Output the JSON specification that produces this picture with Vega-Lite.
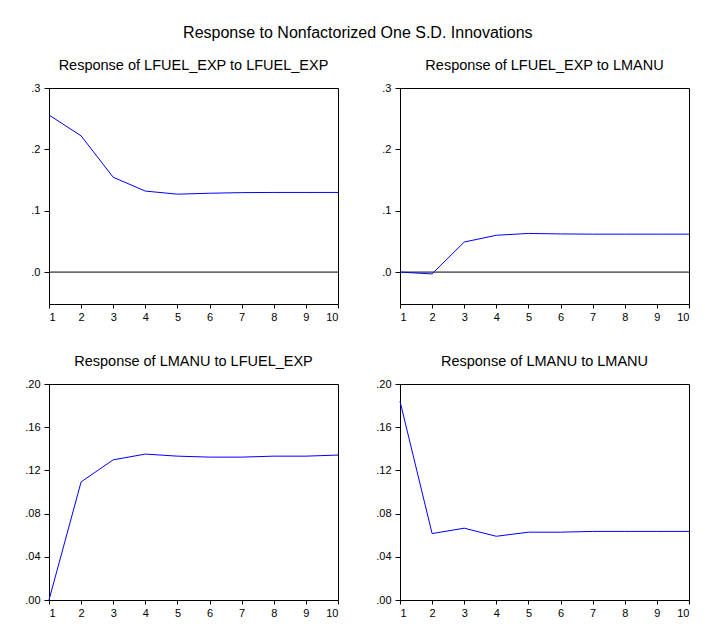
{
  "$schema": "https://vega.github.io/schema/vega-lite/v6.json",
  "background": "white",
  "padding": {"left": 24, "top": 25, "right": 10, "bottom": 10},
  "title": {"text": "Response to Nonfactorized One S.D. Innovations", "fontSize": 16, "fontWeight": "normal", "font": "Liberation Sans", "color": "black", "anchor": "middle", "offset": 16},
  "config": {
    "view": {"stroke": "black", "strokeWidth": 1},
    "axis": {"domain": false, "grid": false, "tickColor": "black", "labelColor": "black", "labelFont": "Liberation Sans", "labelFontSize": 11, "title": null},
    "axisX": {"tickSize": 4, "labelPadding": 3},
    "axisY": {"tickSize": 5, "labelPadding": 4},
    "title": {"font": "Liberation Sans", "fontSize": 14.5, "fontWeight": "normal", "color": "black", "offset": 9}
  },
  "datasets": {
    "irf": [
      {"panel": "A", "step": 1, "value": 0.256},
      {"panel": "A", "step": 2, "value": 0.222},
      {"panel": "A", "step": 3, "value": 0.1545},
      {"panel": "A", "step": 4, "value": 0.132},
      {"panel": "A", "step": 5, "value": 0.127},
      {"panel": "A", "step": 6, "value": 0.1285},
      {"panel": "A", "step": 7, "value": 0.1295},
      {"panel": "A", "step": 8, "value": 0.1298},
      {"panel": "A", "step": 9, "value": 0.1298},
      {"panel": "A", "step": 10, "value": 0.1298},
      {"panel": "B", "step": 1, "value": 0.0},
      {"panel": "B", "step": 2, "value": -0.003},
      {"panel": "B", "step": 3, "value": 0.049},
      {"panel": "B", "step": 4, "value": 0.060},
      {"panel": "B", "step": 5, "value": 0.063},
      {"panel": "B", "step": 6, "value": 0.0622},
      {"panel": "B", "step": 7, "value": 0.0618},
      {"panel": "B", "step": 8, "value": 0.0618},
      {"panel": "B", "step": 9, "value": 0.0618},
      {"panel": "B", "step": 10, "value": 0.0618},
      {"panel": "C", "step": 1, "value": 0.0},
      {"panel": "C", "step": 2, "value": 0.1094},
      {"panel": "C", "step": 3, "value": 0.1298},
      {"panel": "C", "step": 4, "value": 0.1351},
      {"panel": "C", "step": 5, "value": 0.1332},
      {"panel": "C", "step": 6, "value": 0.1323},
      {"panel": "C", "step": 7, "value": 0.1323},
      {"panel": "C", "step": 8, "value": 0.1332},
      {"panel": "C", "step": 9, "value": 0.1332},
      {"panel": "C", "step": 10, "value": 0.1342},
      {"panel": "D", "step": 1, "value": 0.184},
      {"panel": "D", "step": 2, "value": 0.0615},
      {"panel": "D", "step": 3, "value": 0.0665},
      {"panel": "D", "step": 4, "value": 0.059},
      {"panel": "D", "step": 5, "value": 0.0628},
      {"panel": "D", "step": 6, "value": 0.0628},
      {"panel": "D", "step": 7, "value": 0.0635},
      {"panel": "D", "step": 8, "value": 0.0635},
      {"panel": "D", "step": 9, "value": 0.0635},
      {"panel": "D", "step": 10, "value": 0.0635}
    ],
    "zero": [{"y": 0}]
  },
  "columns": 2,
  "spacing": {"row": 80, "column": 62},
  "bounds": "flush",
  "concat": [
    {
      "width": 289, "height": 216,
      "title": "Response of LFUEL_EXP to LFUEL_EXP",
      "layer": [
        {"data": {"name": "zero"}, "mark": {"type": "rule", "color": "black", "strokeWidth": 1}, "encoding": {"y": {"field": "y", "type": "quantitative", "scale": {"domain": [-0.052, 0.3], "nice": false, "zero": false}}}},
        {"data": {"name": "irf"}, "transform": [{"filter": "datum.panel === 'A'"}], "mark": {"type": "line", "color": "#0000ff", "strokeWidth": 1},
         "encoding": {
          "x": {"field": "step", "type": "quantitative", "scale": {"domain": [1, 10], "nice": false, "zero": false}, "axis": {"values": [1,2,3,4,5,6,7,8,9,10], "format": "d"}},
          "y": {"field": "value", "type": "quantitative", "scale": {"domain": [-0.052, 0.3], "nice": false, "zero": false}, "axis": {"values": [0, 0.1, 0.2, 0.3], "format": ".1f", "labelExpr": "replace(datum.label, '0.', '.')"}}
        }}
      ]
    },
    {
      "width": 289, "height": 216,
      "title": "Response of LFUEL_EXP to LMANU",
      "layer": [
        {"data": {"name": "zero"}, "mark": {"type": "rule", "color": "black", "strokeWidth": 1}, "encoding": {"y": {"field": "y", "type": "quantitative", "scale": {"domain": [-0.052, 0.3], "nice": false, "zero": false}}}},
        {"data": {"name": "irf"}, "transform": [{"filter": "datum.panel === 'B'"}], "mark": {"type": "line", "color": "#0000ff", "strokeWidth": 1},
         "encoding": {
          "x": {"field": "step", "type": "quantitative", "scale": {"domain": [1, 10], "nice": false, "zero": false}, "axis": {"values": [1,2,3,4,5,6,7,8,9,10], "format": "d"}},
          "y": {"field": "value", "type": "quantitative", "scale": {"domain": [-0.052, 0.3], "nice": false, "zero": false}, "axis": {"values": [0, 0.1, 0.2, 0.3], "format": ".1f", "labelExpr": "replace(datum.label, '0.', '.')"}}
        }}
      ]
    },
    {
      "width": 289, "height": 216,
      "title": "Response of LMANU to LFUEL_EXP",
      "data": {"name": "irf"},
      "transform": [{"filter": "datum.panel === 'C'"}],
      "mark": {"type": "line", "color": "#0000ff", "strokeWidth": 1},
      "encoding": {
        "x": {"field": "step", "type": "quantitative", "scale": {"domain": [1, 10], "nice": false, "zero": false}, "axis": {"values": [1,2,3,4,5,6,7,8,9,10], "format": "d"}},
        "y": {"field": "value", "type": "quantitative", "scale": {"domain": [0, 0.2], "nice": false, "zero": false}, "axis": {"values": [0, 0.04, 0.08, 0.12, 0.16, 0.2], "format": ".2f", "labelExpr": "replace(datum.label, '0.', '.')"}}
      }
    },
    {
      "width": 289, "height": 216,
      "title": "Response of LMANU to LMANU",
      "data": {"name": "irf"},
      "transform": [{"filter": "datum.panel === 'D'"}],
      "mark": {"type": "line", "color": "#0000ff", "strokeWidth": 1},
      "encoding": {
        "x": {"field": "step", "type": "quantitative", "scale": {"domain": [1, 10], "nice": false, "zero": false}, "axis": {"values": [1,2,3,4,5,6,7,8,9,10], "format": "d"}},
        "y": {"field": "value", "type": "quantitative", "scale": {"domain": [0, 0.2], "nice": false, "zero": false}, "axis": {"values": [0, 0.04, 0.08, 0.12, 0.16, 0.2], "format": ".2f", "labelExpr": "replace(datum.label, '0.', '.')"}}
      }
    }
  ]
}
